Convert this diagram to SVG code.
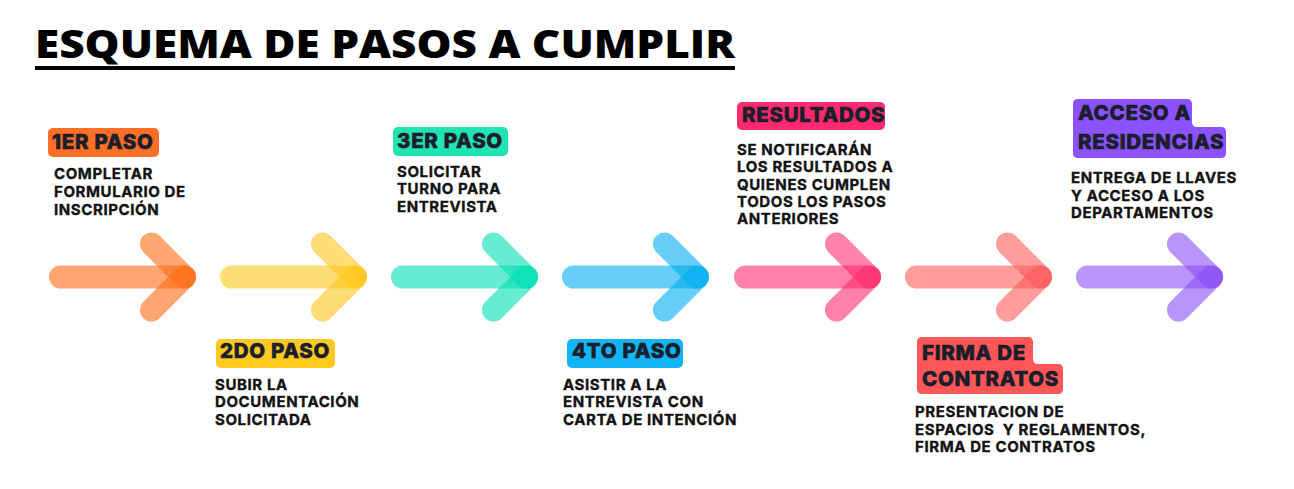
<svg xmlns="http://www.w3.org/2000/svg" xmlns:xlink="http://www.w3.org/1999/xlink" width="1294" height="489" viewBox="0 0 1294 489">
<style>
.title{font-family:"Open Sans","Liberation Sans",sans-serif;font-weight:800;font-size:38px;fill:#000}
.lbl{font-family:Inter,"Liberation Sans",sans-serif;font-weight:800;font-size:20.5px;letter-spacing:0.7px;fill:#1b1e2b;stroke:#1b1e2b;stroke-width:0.6px}
.body{font-family:Inter,"Liberation Sans",sans-serif;font-weight:700;font-size:15px;letter-spacing:0.6px;fill:#111;stroke:#111;stroke-width:0.35px}
.arm{stroke:currentColor;stroke-width:23;stroke-linecap:round;stroke-opacity:0.6;fill:none}
</style>
<defs>
<g id="arrow">
<line class="arm" x1="11.5" y1="277" x2="135.5" y2="277"/>
<line class="arm" x1="102.5" y1="244" x2="135.5" y2="277"/>
<line class="arm" x1="102.5" y1="310" x2="135.5" y2="277"/>
</g>
</defs>
<rect width="1294" height="489" fill="#fff"/>
<g id="title">
<text class="title" x="35" y="58" textLength="700" lengthAdjust="spacingAndGlyphs">ESQUEMA DE PASOS A CUMPLIR</text>
<rect x="35" y="66" width="700" height="4" fill="#000"/>
</g>
<g id="connectors">
<use xlink:href="#arrow" href="#arrow" x="49" style="color:#ff6a14"/>
<use xlink:href="#arrow" href="#arrow" x="220" style="color:#ffc61a"/>
<use xlink:href="#arrow" href="#arrow" x="391" style="color:#00e0b0"/>
<use xlink:href="#arrow" href="#arrow" x="562" style="color:#00aef0"/>
<use xlink:href="#arrow" href="#arrow" x="734" style="color:#ff2c6e"/>
<use xlink:href="#arrow" href="#arrow" x="905" style="color:#ff5a5a"/>
<use xlink:href="#arrow" href="#arrow" x="1076" style="color:#8c4ff5"/>
</g>
<g id="paso1">
<rect x="48" y="128" width="111" height="29" rx="5" fill="#ff6f26"/>
<text class="lbl" x="52" y="149">1ER PASO</text>
<text class="body" x="54" y="179">COMPLETAR</text>
<text class="body" x="54" y="197">FORMULARIO DE</text>
<text class="body" x="54" y="215">INSCRIPCIÓN</text>
</g>
<g id="paso2">
<rect x="216" y="339" width="119" height="29" rx="5" fill="#ffc91f"/>
<text class="lbl" x="220" y="358">2DO PASO</text>
<text class="body" x="215" y="390">SUBIR LA</text>
<text class="body" x="215" y="407">DOCUMENTACIÓN</text>
<text class="body" x="215" y="425">SOLICITADA</text>
</g>
<g id="paso3">
<rect x="393" y="127" width="115" height="29" rx="5" fill="#22e3b2"/>
<text class="lbl" x="397" y="148">3ER PASO</text>
<text class="body" x="397" y="177">SOLICITAR</text>
<text class="body" x="397" y="194">TURNO PARA</text>
<text class="body" x="397" y="212">ENTREVISTA</text>
</g>
<g id="paso4">
<rect x="567" y="339" width="116" height="29" rx="5" fill="#12b4f5"/>
<text class="lbl" x="572" y="358">4TO PASO</text>
<text class="body" x="563" y="390">ASISTIR A LA</text>
<text class="body" x="563" y="407">ENTREVISTA CON</text>
<text class="body" x="563" y="425">CARTA DE INTENCIÓN</text>
</g>
<g id="resultados">
<rect x="737" y="102" width="148" height="28" rx="5" fill="#ff2970"/>
<text class="lbl" x="742" y="122">RESULTADOS</text>
<text class="body" x="737" y="155">SE NOTIFICARÁN</text>
<text class="body" x="737" y="172">LOS RESULTADOS A</text>
<text class="body" x="737" y="190">QUIENES CUMPLEN</text>
<text class="body" x="737" y="207">TODOS LOS PASOS</text>
<text class="body" x="737" y="224">ANTERIORES</text>
</g>
<g id="firma">
<path d="M922,337 H1028 Q1033,337 1033,342 V359 Q1033,364 1038,364 H1058 Q1063,364 1063,369 V389 Q1063,394 1058,394 H922 Q917,394 917,389 V342 Q917,337 922,337 Z" fill="#ff5757"/>
<text class="lbl" x="922" y="360">FIRMA DE</text>
<text class="lbl" x="922" y="386">CONTRATOS</text>
<text class="body" x="915" y="417">PRESENTACION DE</text>
<text class="body" x="915" y="435" xml:space="preserve">ESPACIOS  Y REGLAMENTOS,</text>
<text class="body" x="915" y="452">FIRMA DE CONTRATOS</text>
</g>
<g id="acceso">
<path d="M1078,99 H1187 Q1192,99 1192,104 V122 Q1192,127 1197,127 H1221 Q1226,127 1226,132 V153 Q1226,158 1221,158 H1078 Q1073,158 1073,153 V104 Q1073,99 1078,99 Z" fill="#8c52ff"/>
<text class="lbl" x="1078" y="120">ACCESO A</text>
<text class="lbl" x="1078" y="149">RESIDENCIAS</text>
<text class="body" x="1071" y="183">ENTREGA DE LLAVES</text>
<text class="body" x="1071" y="201">Y ACCESO A LOS</text>
<text class="body" x="1071" y="218">DEPARTAMENTOS</text>
</g>
</svg>
